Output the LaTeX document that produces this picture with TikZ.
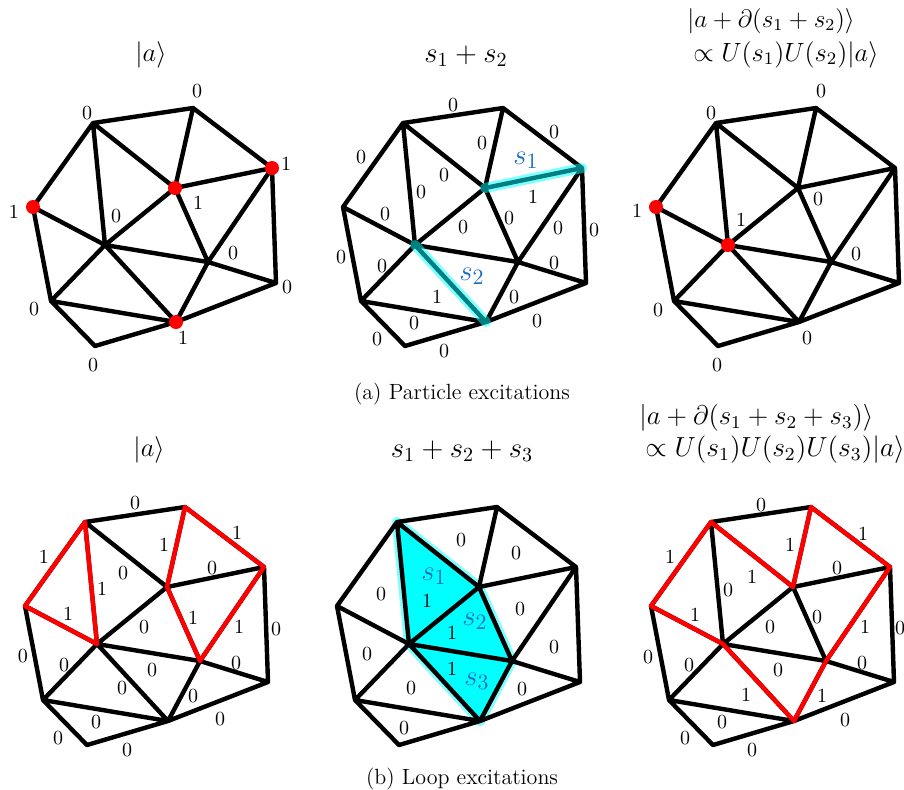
\documentclass[tikz,border=0pt]{standalone}
\usepackage{amsmath}

\definecolor{sblue}{RGB}{30,110,190}
\definecolor{aqua}{RGB}{0,255,255}

\tikzset{
  edge/.style={line width=2.2pt, line cap=round, line join=round},
  redge/.style={edge, red},
  hilite/.style={aqua, opacity=0.5, line width=5pt, line cap=round},
  halo/.style={aqua, opacity=0.5, line width=5pt, line join=round},
  lbl/.style={font=\fontsize{10}{12}\selectfont, inner sep=0pt},
  slbl/.style={text=sblue, font=\fontsize{15}{18}\selectfont, inner sep=0pt},
  ttl/.style={font=\fontsize{12}{14}\selectfont, inner sep=0pt, anchor=base},
  sumttl/.style={font=\fontsize{14.5}{17}\selectfont, inner sep=0pt, anchor=base},
  capt/.style={font=\fontsize{11}{13}\selectfont, inner sep=0pt, anchor=base}
}

% vertices of the triangulation (pixel grid of the first panel)
\newcommand{\meshpts}{%
  \coordinate (A) at (93,123);
  \coordinate (B) at (193,108);
  \coordinate (C) at (272,168);
  \coordinate (D) at (175,188);
  \coordinate (E) at (33,207);
  \coordinate (F) at (105,245);
  \coordinate (G) at (208,262);
  \coordinate (H) at (276,283);
  \coordinate (I) at (51,301);
  \coordinate (J) at (176,322);
  \coordinate (K) at (95,346);}
\newcommand{\meshedges}{%
  \draw[edge] (A)--(B) (B)--(C) (A)--(E) (A)--(F) (A)--(D) (B)--(D) (D)--(C)
    (E)--(F) (E)--(I) (F)--(D) (D)--(G) (C)--(G) (C)--(H) (F)--(G) (G)--(H)
    (F)--(I) (F)--(J) (G)--(J) (I)--(J) (I)--(K) (K)--(J) (J)--(H);}

\begin{document}
\begin{tikzpicture}[x=0.5pt, y=-0.5pt]
  \useasboundingbox (0,0) rectangle (904,789);

  % titles, row (a)
  \node[ttl, scale=1.1] (ta1) at (151,61) {$|a\rangle$};
  \node[sumttl] (ta2) at (466,62) {$s_1+s_2$};
  \node[ttl, anchor=base west, scale=1.05] (ta3) at (687,27) {$|a+\partial(s_1+s_2)\rangle$};
  \node[ttl, anchor=base west, scale=1.1] (ta4) at (693,61) {$\propto U(s_1)U(s_2)|a\rangle$};
  \node[capt] (capa) at (462,399) {(a) Particle excitations};

  % (a) left: vertex state
  \begin{scope}
    \meshpts
    \meshedges
    \foreach \v in {C,D,E,J} \fill[red] (\v) circle (3.5pt);
    \foreach \x/\y/\t [count=\i] in {87/113/0, 197/91/0, 286/164/1, 198/203/1,
      14/212/1, 116/216/0, 233/253/0, 287/287/0, 34/309/0, 183/338/1, 93/365/0}
      \node[lbl] (va\i) at (\x,\y) {\t};
  \end{scope}

  % (a) middle: edge string
  \begin{scope}[shift={(310,0)}]
    \meshpts
    \meshedges
    \draw[hilite] (D)--(C);
    \draw[hilite] (F)--(J);
    \foreach \x/\y/\t [count=\i] in {143/105/0, 244/132/0, 51/157/0, 172/143/0,
      134/175/0, 111/192/0, 223/197/1, 75/214/0, 199/218/0, 153/227/0, 248/228/0,
      284/230/0, 31/257/0, 72/266/0, 244/263/0, 127/297/1, 204/297/0, 104/323/0,
      227/321/0, 67/339/0, 134/351/0}
      \node[lbl] (ea\i) at (\x,\y) {\t};
    \node[slbl] (s1a) at (216,160) {$s_1$};
    \node[slbl] (s2a) at (162,276) {$s_2$};
  \end{scope}

  % (a) right: moved particles
  \begin{scope}[shift={(623,0)}]
    \meshpts
    \meshedges
    \foreach \v in {E,F} \fill[red] (\v) circle (3.5pt);
    \foreach \x/\y/\t [count=\i] in {88/113/0, 198/91/0, 286/164/0, 195/199/0,
      14/211/1, 118/220/1, 233/254/0, 288/287/0, 35/310/0, 184/338/0, 94/365/0}
      \node[lbl] (wa\i) at (\x,\y) {\t};
  \end{scope}

  % titles, row (b)
  \node[ttl, scale=1.1] (tb1) at (149,456) {$|a\rangle$};
  \node[sumttl] (tb2) at (462,457) {$s_1+s_2+s_3$};
  \node[ttl, anchor=base west, scale=1.12] (tb3) at (639,424) {$|a+\partial(s_1+s_2+s_3)\rangle$};
  \node[ttl, anchor=base west, scale=1.15] (tb4) at (645,456) {$\propto U(s_1)U(s_2)U(s_3)|a\rangle$};
  \node[capt] (capb) at (462,784) {(b) Loop excitations};

  % (b) left: edge state
  \begin{scope}[shift={(-8,399)}]
    \meshpts
    \meshedges
    \draw[redge] (A)--(E) (A)--(F) (E)--(F) (B)--(D) (B)--(C) (D)--(G) (C)--(G);
    \foreach \x/\y/\t [count=\i] in {143/104/0, 52/158/1, 172/146/1, 245/134/1,
      131/174/0, 220/169/0, 110/190/1, 76/215/1, 152/228/0, 201/219/1, 247/228/1,
      284/230/0, 31/257/0, 72/266/0, 160/271/0, 244/264/0, 130/289/0, 201/297/0,
      104/323/0, 228/320/0, 66/339/0, 135/351/0}
      \node[lbl] (eb\i) at (\x,\y) {\t};
  \end{scope}

  % (b) middle: face chain
  \begin{scope}[shift={(304,399)}]
    \meshpts
    \fill[aqua] (A)--(F)--(D)--cycle (F)--(D)--(G)--cycle (F)--(G)--(J)--cycle;
    \draw[halo] (A)--(D)--(G)--(J)--(F)--cycle;
    \meshedges
    \foreach \x/\y/\t [count=\i] in {157/141/0, 212/154/0, 77/195/0, 123/202/1,
      148/234/1, 216/210/0, 250/248/0, 63/255/0, 148/270/1, 107/289/0, 218/290/0,
      100/329/0}
      \node[lbl] (fb\i) at (\x,\y) {\t};
    \node[slbl] (s1b) at (130,177) {$s_1$};
    \node[slbl] (s2b) at (171,222) {$s_2$};
    \node[slbl] (s3b) at (173,282) {$s_3$};
  \end{scope}

  % (b) right: deformed loops
  \begin{scope}[shift={(618,399)}]
    \meshpts
    \meshedges
    \draw[redge] (A)--(E) (E)--(F) (A)--(D) (B)--(D) (B)--(C) (C)--(G) (G)--(J) (F)--(J);
    \foreach \x/\y/\t [count=\i] in {143/106/0, 52/158/1, 172/146/1, 245/135/1,
      134/178/1, 219/169/0, 110/191/0, 77/216/1, 152/228/0, 199/218/0, 247/228/1,
      282/229/0, 30/258/0, 71/266/0, 160/271/0, 244/264/0, 128/296/1, 204/297/1,
      104/323/0, 227/321/0, 67/339/0, 134/351/0}
      \node[lbl] (wb\i) at (\x,\y) {\t};
  \end{scope}
\end{tikzpicture}
\end{document}
